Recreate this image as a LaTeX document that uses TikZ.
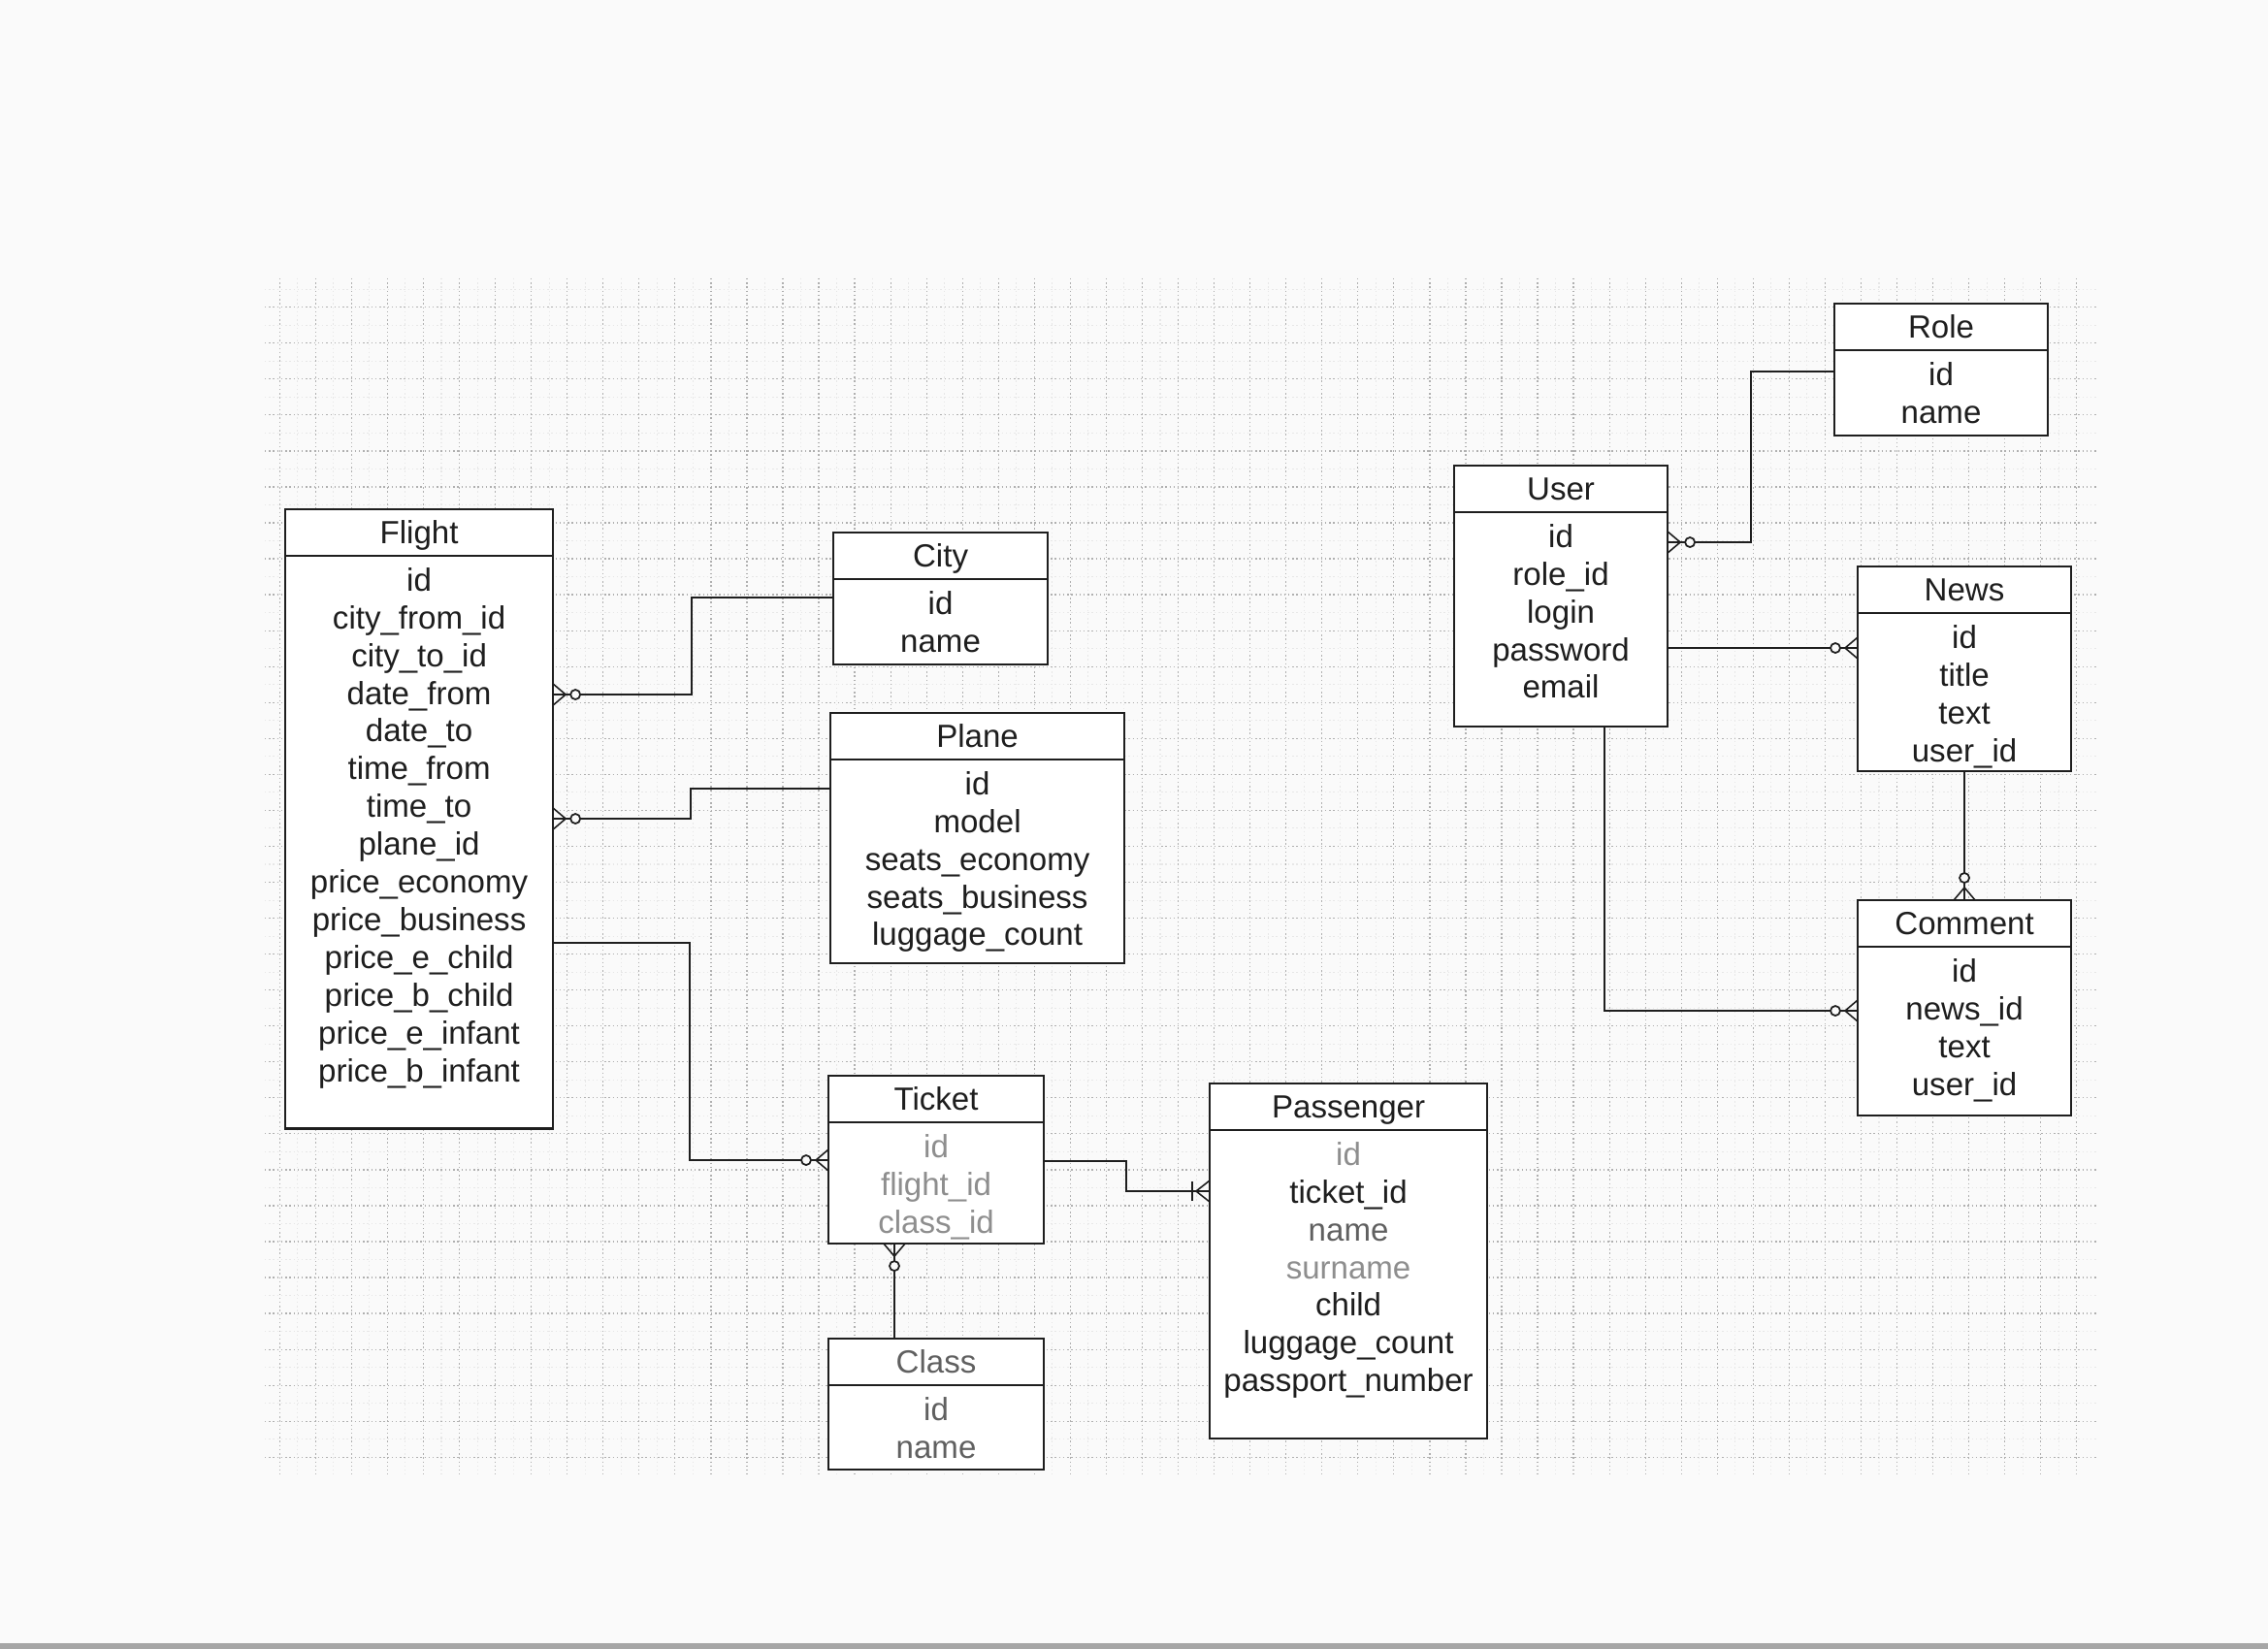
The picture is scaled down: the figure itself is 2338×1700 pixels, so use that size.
\documentclass[tikz,border=0pt]{standalone}
\usepackage{fontspec}
\setmainfont{Liberation Sans}
\usepackage{xcolor}
\usetikzlibrary{positioning,calc}
\definecolor{paper}{HTML}{FAFAFA}
\definecolor{ink}{HTML}{1E1E1E}
\definecolor{inkmid}{HTML}{606060}
\definecolor{inkfade}{HTML}{8E8E8E}
\definecolor{gridink}{HTML}{B0B0B0}
\newcommand{\fieldlist}[3]{\parbox[t][#2][t]{#1}{\centering\rule{0pt}{10.3pt}#3}}

\begin{document}
\begin{tikzpicture}[x=0.01cm,y=-0.01cm,font=\fontsize{9.4}{11.07}\selectfont,every node/.append style={inner sep=0pt,outer sep=0pt,text=ink},head/.style={draw=ink,fill=white,line width=0.7pt,minimum height=0.48cm,text height=6.8pt,text depth=0pt,anchor=north west},body/.style={draw=ink,fill=white,line width=0.7pt},link/.style={draw=ink,line width=0.6pt},gridline/.style={gridink,line width=0.35pt,dash pattern=on 0.4pt off 0.8pt},gridminor/.style={gridink!30,line width=0.3pt,dash pattern=on 0.4pt off 0.8pt},zeromany/.pic={\draw[ink,line width=0.45pt] (0,-11) -- (13,0) -- (0,11); \draw[ink,line width=0.5pt,fill=paper] (23,0) circle [radius=5];},onemany/.pic={\draw[ink,line width=0.45pt] (0,-11) -- (14,0) -- (0,11); \draw[ink,line width=0.6pt] (18,-10) -- (18,10);},]
    \useasboundingbox (0,0) rectangle (2338,1700);
    \fill[paper] (0,0) rectangle (2338,1700);
    \fill[gray!70] (0,1694) rectangle (2338,1700);
    % squared paper
    \foreach \i in {0,...,49} \draw[gridminor] ({306.8+37.05*\i},287) -- ++(0,1233);
    \foreach \j in {0,...,32} \draw[gridminor] (273,{298.2+37.05*\j}) -- ++(1890,0);
    \foreach \i in {0,...,50} \draw[gridline] ({288.3+37.05*\i},287) -- ++(0,1233);
    \foreach \j in {0,...,32} \draw[gridline] (273,{316.7+37.05*\j}) -- ++(1890,0);
    % tables
    \node [head, minimum width=2.76cm] (flight) at (294,525) {Flight};
    \node [body, below=0pt of flight] (flightb) {\fieldlist{2.76cm}{5.90cm}{id\\city\_from\_id\\city\_to\_id\\date\_from\\date\_to\\time\_from\\time\_to\\plane\_id\\price\_economy\\price\_business\\price\_e\_child\\price\_b\_child\\price\_e\_infant\\price\_b\_infant}};
    \node [head, minimum width=2.21cm] (city) at (859,549) {City};
    \node [body, below=0pt of city] (cityb) {\fieldlist{2.21cm}{0.88cm}{id\\name}};
    \node [head, minimum width=3.03cm] (plane) at (856,735) {Plane};
    \node [body, below=0pt of plane] (planeb) {\fieldlist{3.03cm}{2.10cm}{id\\model\\seats\_economy\\seats\_business\\luggage\_count}};
    \node [head, minimum width=2.22cm] (ticket) at (854,1109) {Ticket};
    \node [body, below=0pt of ticket, text=inkfade] (ticketb) {\fieldlist{2.22cm}{1.25cm}{id\\flight\_id\\class\_id}};
    \node [head, minimum width=2.22cm, text=inkmid] (class) at (854,1380) {Class};
    \node [body, below=0pt of class, text=inkmid] (classb) {\fieldlist{2.22cm}{0.87cm}{id\\name}};
    \node [head, minimum width=2.86cm] (pass) at (1247,1117) {Passenger};
    \node [body, below=0pt of pass] (passb) {\fieldlist{2.86cm}{3.18cm}{{\color{inkfade}id}\\ticket\_id\\{\color{inkmid}name}\\{\color{inkfade}surname}\\child\\luggage\_count\\passport\_number}};
    \node [head, minimum width=2.20cm] (user) at (1499,480) {User};
    \node [body, below=0pt of user] (userb) {\fieldlist{2.20cm}{2.21cm}{id\\role\_id\\login\\password\\email}};
    \node [head, minimum width=2.20cm] (role) at (1891,313) {Role};
    \node [body, below=0pt of role] (roleb) {\fieldlist{2.20cm}{0.88cm}{id\\name}};
    \node [head, minimum width=2.20cm] (news) at (1915,584) {News};
    \node [body, below=0pt of news] (newsb) {\fieldlist{2.20cm}{1.63cm}{id\\title\\text\\user\_id}};
    \node [head, minimum width=2.20cm] (comment) at (1915,928) {Comment};
    \node [body, below=0pt of comment] (commentb) {\fieldlist{2.20cm}{1.74cm}{id\\news\_id\\text\\user\_id}};
    % relations
    \draw[link] ($(cityb.north west)+(0,19)$) -- ++(-146,0) |- ($(flightb.north east)+(0,143)$) coordinate (fcity);
    \pic at (fcity) {zeromany};
    \draw[link] ($(planeb.north west)+(0,30)$) -- ++(-144,0) |- ($(flightb.north east)+(0,271)$) coordinate (fplane);
    \pic at (fplane) {zeromany};
    \draw[link] ($(flightb.north east)+(0,399)$) -- ++(141,0) |- ($(ticketb.north west)+(0,39)$) coordinate (tflight);
    \pic[rotate=180] at (tflight) {zeromany};
    \draw[link] ($(ticketb.north east)+(0,40)$) -- ++(85,0) |- ($(passb.north west)+(0,63)$) coordinate (pticket);
    \pic[rotate=180] at (pticket) {onemany};
    \draw[link] ($(class.north west)+(68,0)$) -- ($(ticketb.south west)+(68,0)$) coordinate (tclass);
    \pic[rotate=-90] at (tclass) {zeromany};
    \draw[link] ($(roleb.north west)+(0,22)$) -- ++(-86,0) |- ($(userb.north east)+(0,31)$) coordinate (urole);
    \pic at (urole) {zeromany};
    \draw[link] ($(userb.north east)+(0,140)$) -- ($(newsb.north west)+(0,36)$) coordinate (nuser);
    \pic[rotate=180] at (nuser) {zeromany};
    \draw[link] (newsb.south) -- (comment.north) coordinate (cnews);
    \pic[rotate=90] at (cnews) {zeromany};
    \draw[link] ($(userb.south west)+(155,0)$) |- ($(commentb.north west)+(0,66)$) coordinate (cuser);
    \pic[rotate=180] at (cuser) {zeromany};
\end{tikzpicture}
\end{document}
